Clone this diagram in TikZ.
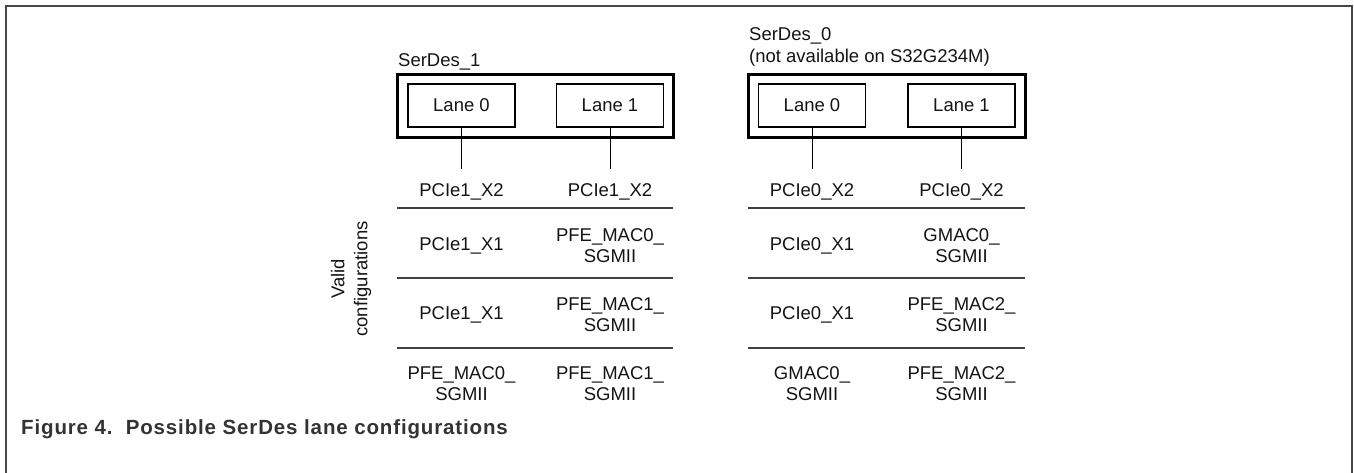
\documentclass[tikz,border=0pt]{standalone}
\usepackage{fontspec}
\setmainfont{Liberation Sans}
\begin{document}
\begin{tikzpicture}[x=1pt,y=-1pt,
  lbl/.style={font=\fontsize{18.5}{21}\selectfont, inner sep=0pt, align=center, text=black!92},
  lanebox/.style={draw, line width=1.3pt, minimum width=107pt, minimum height=43pt, inner sep=0pt,
    font=\fontsize{18.5}{21}\selectfont, text=black!92},
  outerbox/.style={draw, line width=3pt, minimum height=63pt, inner sep=0pt},
  sepline/.style={line width=1.6pt, draw=black!75},
  conn/.style={line width=1pt, shorten >=15pt}]
\useasboundingbox (0,0) rectangle (1354,472);
% frame
\coordinate (fbl) at (6,473);
\coordinate (ftl) at (6,6);
\coordinate (ftr) at (1352,6);
\coordinate (fbr) at (1352,473);
\draw[line width=2.5pt, draw=black!72] (fbl) -- (ftl) -- (ftr) -- (fbr);

% SerDes_1
\node[outerbox, minimum width=276pt] (sd1) at (535,105.5) {};
\node[lbl, anchor=west] (t1) at (398,62) {SerDes\_1};
\node[lanebox] (a0) at (461.5,105.5) {Lane 0};
\node[lanebox] (a1) at (610,105.5) {Lane 1};

% SerDes_0
\node[outerbox, minimum width=277pt] (sd0) at (886.5,105.5) {};
\node[lbl, anchor=west, align=left, font=\fontsize{18.5}{22}\selectfont] (t0) at (749,46.5) {SerDes\_0\\(not available on S32G234M)};
\node[lanebox] (b0) at (812,105.5) {Lane 0};
\node[lanebox] (b1) at (961.5,105.5) {Lane 1};

% row 1
\node[lbl] (r1a) at (461.5,192) {PCIe1\_X2};
\node[lbl] (r1b) at (610,192) {PCIe1\_X2};
\node[lbl] (r1c) at (812,192) {PCIe0\_X2};
\node[lbl] (r1d) at (961.5,192) {PCIe0\_X2};
\draw[conn] (a0.south) -- (r1a.north);
\draw[conn] (a1.south) -- (r1b.north);
\draw[conn] (b0.south) -- (r1c.north);
\draw[conn] (b1.south) -- (r1d.north);

% separators
\foreach \yy/\nm in {208/s1,278/s2,348/s3}{
  \coordinate (\nm L1) at (397,\yy);
  \coordinate (\nm R1) at (673,\yy);
  \coordinate (\nm L0) at (748,\yy);
  \coordinate (\nm R0) at (1025,\yy);
  \draw[sepline] (\nm L1) -- (\nm R1);
  \draw[sepline] (\nm L0) -- (\nm R0);
}

% row 2
\node[lbl] (r2a) at (461.5,246) {PCIe1\_X1};
\node[lbl] (r2b) at (610,246) {PFE\_MAC0\_\\SGMII};
\node[lbl] (r2c) at (812,246) {PCIe0\_X1};
\node[lbl] (r2d) at (961.5,246) {GMAC0\_\\SGMII};

% row 3
\node[lbl] (r3a) at (461.5,315) {PCIe1\_X1};
\node[lbl] (r3b) at (610,315) {PFE\_MAC1\_\\SGMII};
\node[lbl] (r3c) at (812,315) {PCIe0\_X1};
\node[lbl] (r3d) at (961.5,315) {PFE\_MAC2\_\\SGMII};

% row 4
\node[lbl] (r4a) at (461.5,384) {PFE\_MAC0\_\\SGMII};
\node[lbl] (r4b) at (610,384) {PFE\_MAC1\_\\SGMII};
\node[lbl] (r4c) at (812,384) {GMAC0\_\\SGMII};
\node[lbl] (r4d) at (961.5,384) {PFE\_MAC2\_\\SGMII};

% side label
\node[lbl, rotate=90, font=\fontsize{18.5}{23}\selectfont] (vc) at (351,279) {Valid\\configurations};

% caption
\node[anchor=base west, inner sep=0pt, font=\bfseries\fontsize{20.5}{24}\selectfont\addfontfeatures{LetterSpace=4.2}, text=black!80] (cap) at (21,434) {Figure 4.\ \ Possible SerDes lane configurations};
\end{tikzpicture}
\end{document}
